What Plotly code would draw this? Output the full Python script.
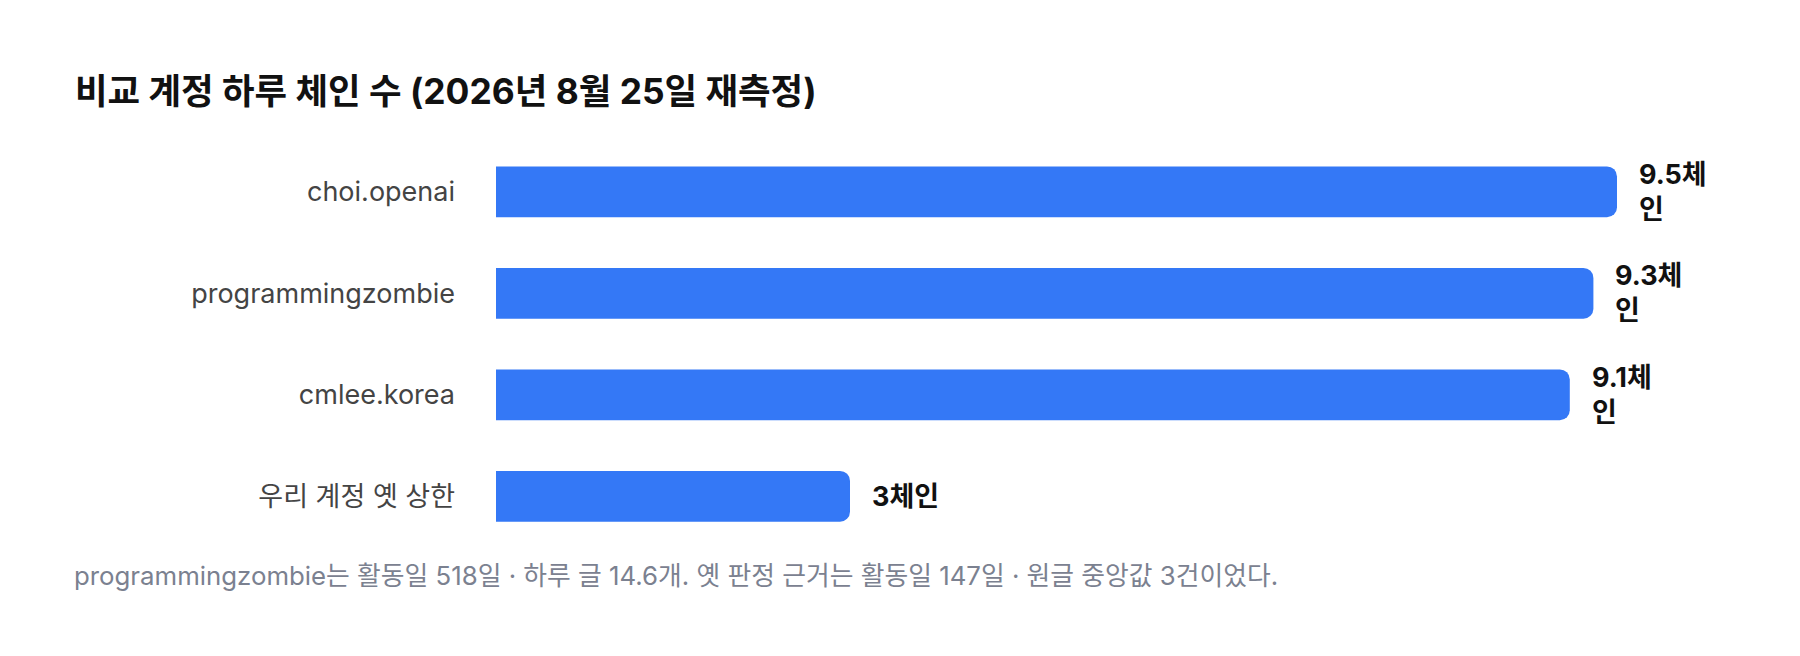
import plotly.graph_objects as go

# 비교 계정 하루 체인 수
accounts = ["choi.openai", "programmingzombie", "cmlee.korea", "우리 계정 옛 상한"]
chains = [9.5, 9.3, 9.1, 3]
value_labels = ["9.5체<br>인", "9.3체<br>인", "9.1체<br>인", "3체인"]

title = "비교 계정 하루 체인 수 (2026년 8월 25일 재측정)"
note = "programmingzombie는 활동일 518일 · 하루 글 14.6개. 옛 판정 근거는 활동일 147일 · 원글 중앙값 3건이었다."

W, H = 1800, 656
L, R, T, B = 496, 65, 141, 109
FONT = "Inter, 'Noto Sans CJK KR', sans-serif"
BLUE = "#3478f6"

fig = go.Figure()
fig.add_trace(go.Bar(
    x=chains, y=accounts, orientation="h",
    width=0.5,
    marker=dict(color=BLUE, cornerradius=10, line_width=0),
    hoverinfo="skip",
))

for acc, v, lab in zip(accounts, chains, value_labels):
    fig.add_annotation(
        x=v, y=acc, text=lab, showarrow=False,
        xanchor="left", yanchor="middle", align="left", xshift=20,
        font=dict(family=FONT, size=27, color="#111111", weight="bold"),
    )

plot_w = W - L - R
fig.add_annotation(
    xref="paper", yref="paper",
    x=(72 - L) / plot_w, y=-(575 - (H - B)) / (H - T - B),
    text=note, showarrow=False, xanchor="left", yanchor="middle",
    font=dict(family=FONT, size=25.8, color="#7b8190"),
)

fig.update_layout(
    width=W, height=H,
    margin=dict(l=L, r=R, t=T, b=B),
    paper_bgcolor="white", plot_bgcolor="white",
    showlegend=False,
    font=dict(family=FONT),
    title=dict(
        text=title, xref="container", yref="container",
        x=75 / W, xanchor="left", y=1 - 92 / H, yanchor="middle",
        font=dict(family=FONT, size=35.4, color="#111111", weight="bold"),
    ),
    xaxis=dict(range=[0, 10.5], visible=False, fixedrange=True),
    yaxis=dict(
        autorange="reversed", showgrid=False, zeroline=False, showline=False,
        ticks="", ticklabelstandoff=40,
        tickfont=dict(family=FONT, size=27, color="#444444"),
        fixedrange=True,
    ),
)

fig.write_html("out.html", config={"displayModeBar": False},
               post_script="document.body.style.margin='0';")
